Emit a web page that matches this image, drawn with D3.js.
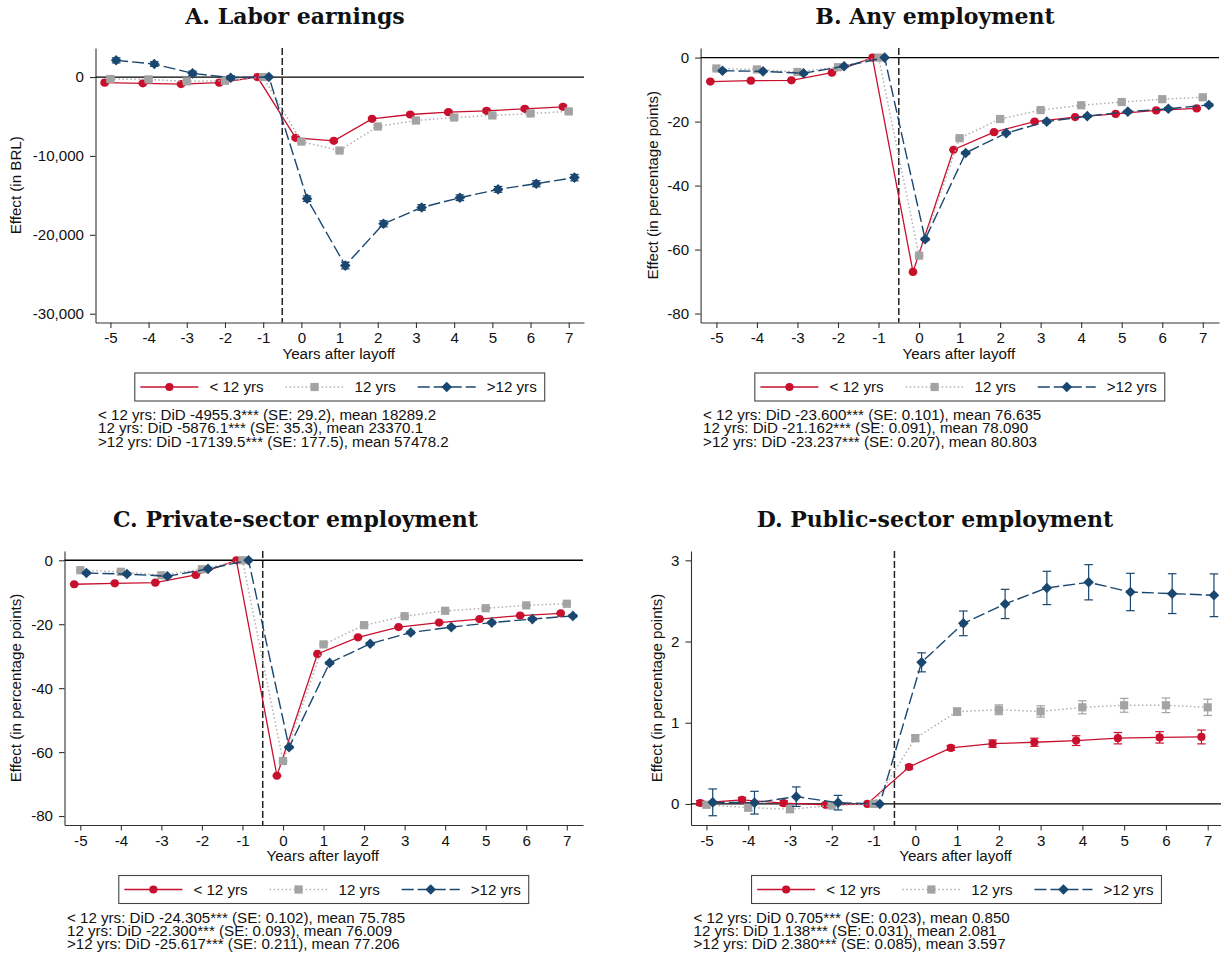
<!DOCTYPE html>
<html>
<head>
<meta charset="utf-8">
<script src="https://cdn.jsdelivr.net/npm/d3@7"></script>
<style>
  body { margin: 0; background: #fff; }
  svg { display: block; }
</style>
</head>
<body>
<svg id="chart" width="1221" height="962"></svg>
<script>
// ---- Data -----------------------------------------------------------
const years = [-5, -4, -3, -2, -1, 0, 1, 2, 3, 4, 5, 6, 7];
const groupLabels = ["< 12 yrs", "12 yrs", ">12 yrs"];

// A. Labor earnings (BRL)
const earnLow  = [-720, -800, -890, -720, 0, -7710, -8090, -5300, -4750, -4450, -4280, -4030, -3770];
const earnMid  = [-250, -300, -550, -470, 0, -8180, -9320, -6270, -5510, -5130, -4870, -4620, -4360];
const earnHigh = [2120, 1650, 470, -80, 0, -15420, -23900, -18600, -16530, -15300, -14240, -13520, -12750];
const earnLowCi  = [130, 120, 120, 110, 0, 140, 150, 150, 160, 170, 180, 190, 200];
const earnMidCi  = [140, 130, 130, 120, 0, 150, 160, 160, 170, 180, 190, 200, 210];
const earnHighCi = [330, 300, 280, 250, 0, 350, 420, 380, 360, 360, 370, 380, 400];
const earnTicks = [0, -10000, -20000, -30000];
const earnNotes = [
  "< 12 yrs: DiD -4955.3*** (SE: 29.2), mean 18289.2",
  "12 yrs: DiD -5876.1*** (SE: 35.3), mean 23370.1",
  ">12 yrs: DiD -17139.5*** (SE: 177.5), mean 57478.2"
];

// B. Any employment (pp)
const empLow  = [-7.5, -7.2, -7.1, -4.7, 0, -67.0, -28.8, -23.3, -20.0, -18.6, -17.6, -16.5, -15.9];
const empMid  = [-3.4, -3.7, -4.5, -3.0, 0, -61.9, -25.2, -19.2, -16.4, -14.9, -13.9, -13.0, -12.4];
const empHigh = [-4.1, -4.3, -4.9, -2.7, 0, -56.8, -29.8, -23.6, -20.0, -18.3, -16.9, -16.0, -14.8];
const empLowCi  = [0.15, 0.15, 0.15, 0.15, 0, 0.2, 0.2, 0.2, 0.2, 0.2, 0.2, 0.2, 0.2];
const empMidCi  = [0.15, 0.15, 0.15, 0.15, 0, 0.2, 0.2, 0.2, 0.2, 0.2, 0.2, 0.2, 0.2];
const empHighCi = [0.3, 0.3, 0.3, 0.3, 0, 0.4, 0.4, 0.4, 0.4, 0.4, 0.4, 0.4, 0.4];
const empTicks = [0, -20, -40, -60, -80];
const empNotes = [
  "< 12 yrs: DiD -23.600*** (SE: 0.101), mean 76.635",
  "12 yrs: DiD -21.162*** (SE: 0.091), mean 78.090",
  ">12 yrs: DiD -23.237*** (SE: 0.207), mean 80.803"
];

// C. Private-sector employment (pp)
const privLow  = [-7.5, -7.2, -7.0, -4.6, 0, -67.4, -29.3, -24.1, -20.9, -19.5, -18.4, -17.3, -16.6];
const privMid  = [-3.1, -3.6, -4.7, -2.8, 0, -62.8, -26.3, -20.3, -17.5, -15.8, -15.0, -14.1, -13.6];
const privHigh = [-4.0, -4.3, -5.0, -2.7, 0, -58.5, -32.1, -26.1, -22.6, -20.9, -19.5, -18.4, -17.4];
const privLowCi  = [0.15, 0.15, 0.15, 0.15, 0, 0.2, 0.2, 0.2, 0.2, 0.2, 0.2, 0.2, 0.2];
const privMidCi  = [0.15, 0.15, 0.15, 0.15, 0, 0.2, 0.2, 0.2, 0.2, 0.2, 0.2, 0.2, 0.2];
const privHighCi = [0.3, 0.3, 0.3, 0.3, 0, 0.4, 0.4, 0.4, 0.4, 0.4, 0.4, 0.4, 0.4];
const privTicks = [0, -20, -40, -60, -80];
const privNotes = [
  "< 12 yrs: DiD -24.305*** (SE: 0.102), mean 75.785",
  "12 yrs: DiD -22.300*** (SE: 0.093), mean 76.009",
  ">12 yrs: DiD -25.617*** (SE: 0.211), mean 77.206"
];

// D. Public-sector employment (pp)
const pubLow  = [0.012, 0.05, 0.01, -0.01, 0, 0.455, 0.69, 0.743, 0.76, 0.78, 0.81, 0.82, 0.825];
const pubMid  = [-0.01, -0.045, -0.065, -0.02, 0, 0.81, 1.137, 1.16, 1.14, 1.19, 1.215, 1.215, 1.19];
const pubHigh = [0.02, 0.016, 0.09, 0.016, 0, 1.744, 2.224, 2.463, 2.66, 2.73, 2.61, 2.59, 2.57];
const pubLowCi  = [0.03, 0.03, 0.03, 0.02, 0, 0.025, 0.03, 0.045, 0.05, 0.06, 0.07, 0.07, 0.085];
const pubMidCi  = [0.035, 0.04, 0.04, 0.03, 0, 0.04, 0.045, 0.06, 0.07, 0.08, 0.085, 0.09, 0.1];
const pubHighCi = [0.165, 0.14, 0.12, 0.09, 0, 0.117, 0.152, 0.18, 0.205, 0.217, 0.23, 0.245, 0.263];
const pubTicks = [0, 1, 2, 3];
const pubNotes = [
  "< 12 yrs: DiD 0.705*** (SE: 0.023), mean 0.850",
  "12 yrs: DiD 1.138*** (SE: 0.031), mean 2.081",
  ">12 yrs: DiD 2.380*** (SE: 0.085), mean 3.597"
];

// ---- Styling --------------------------------------------------------
const SANS = "'Liberation Sans', Arial, Helvetica, sans-serif";
const SERIF = "'DejaVu Serif', 'Liberation Serif', serif";
const FS = 14;        // base sans font size
const SX = 1.08;      // horizontal widening of sans text
const eventLine = -0.5;
const dodge = [-0.15, 0, 0.15];
const styles = [
  { color: "#c8102e", dash: null,      width: 1.3, marker: "circle"  },
  { color: "#a3a3a3", dash: "1.5,2.5", width: 1.5, marker: "square", lineColor: "#b0b0b0" },
  { color: "#1a476f", dash: "12,4",    width: 1.4, marker: "diamond" }
];

const panels = [
  { title: "A. Labor earnings", yTitle: "Effect (in BRL)",
    series: [earnLow, earnMid, earnHigh], ci: [earnLowCi, earnMidCi, earnHighCi],
    ticks: earnTicks, notes: earnNotes, yDomain: [-31116, 3682], xDomain: [-5.39, 7.4],
    box: { left: 95.5, right: 584, top: 48, bottom: 322.5 }, titleX: 295, yTitleX: 20.5 },
  { title: "B. Any employment", yTitle: "Effect (in percentage points)",
    series: [empLow, empMid, empHigh], ci: [empLowCi, empMidCi, empHighCi],
    ticks: empTicks, notes: empNotes, yDomain: [-82.8, 3.0], xDomain: [-5.39, 7.4],
    box: { left: 700.6, right: 1219, top: 48, bottom: 322.5 }, titleX: 935, yTitleX: 658 },
  { title: "C. Private-sector employment", yTitle: "Effect (in percentage points)",
    series: [privLow, privMid, privHigh], ci: [privLowCi, privMidCi, privHighCi],
    ticks: privTicks, notes: privNotes, yDomain: [-82.8, 2.9], xDomain: [-5.39, 7.4],
    box: { left: 64.5, right: 583, top: 551, bottom: 825 }, titleX: 295.5, yTitleX: 20.5 },
  { title: "D. Public-sector employment", yTitle: "Effect (in percentage points)",
    series: [pubLow, pubMid, pubHigh], ci: [pubLowCi, pubMidCi, pubHighCi],
    ticks: pubTicks, notes: pubNotes, yDomain: [-0.259, 3.115], xDomain: [-5.37, 7.4],
    box: { left: 691, right: 1224.4, top: 551, bottom: 825 }, titleX: 935, yTitleX: 661.5,
    frameRight: 1222 }
];

const svg = d3.select("#chart");
const fmt = v => d3.format(",")(v).replace("\u2212", "-");

function sansText(g, x, y, s, anchor = "start", rotate = 0) {
  return g.append("text")
    .attr("transform", `translate(${x},${y})` + (rotate ? ` rotate(${rotate})` : "") + ` scale(${SX},1)`)
    .attr("text-anchor", anchor)
    .attr("font-family", SANS)
    .attr("font-size", FS)
    .attr("fill", "#111")
    .text(s);
}

function drawMarker(g, type, cx, cy, color) {
  if (type === "circle") {
    g.append("circle").attr("cx", cx).attr("cy", cy).attr("r", 4.1).attr("fill", color);
  } else if (type === "square") {
    g.append("rect").attr("x", cx - 4.1).attr("y", cy - 4.1).attr("width", 8.2).attr("height", 8.2).attr("fill", color);
  } else {
    const h = 5.3;
    g.append("path").attr("d", `M${cx},${cy - h}L${cx + h},${cy}L${cx},${cy + h}L${cx - h},${cy}Z`).attr("fill", color);
  }
}

panels.forEach(p => {
  const b = p.box;
  const frameRight = p.frameRight || b.right;
  const g = svg.append("g");
  const x = d3.scaleLinear().domain(p.xDomain).range([b.left, b.right]);
  const y = d3.scaleLinear().domain(p.yDomain).range([b.bottom, b.top]);

  // Title
  g.append("text")
    .attr("x", p.titleX).attr("y", b.top - 24)
    .attr("text-anchor", "middle")
    .attr("font-family", SERIF).attr("font-weight", "bold").attr("font-size", 22)
    .attr("fill", "#111")
    .text(p.title);

  // Axes
  const yAxis = d3.axisLeft(y).tickValues(p.ticks).tickFormat(fmt).tickSize(5.5).tickSizeOuter(0);
  const xAxis = d3.axisBottom(x).tickValues(years).tickFormat(fmt).tickSize(5.5).tickSizeOuter(0);
  const ya = g.append("g").attr("transform", `translate(${b.left},0)`).call(yAxis);
  const xa = g.append("g").attr("transform", `translate(0,${b.bottom})`).call(xAxis);
  [ya, xa].forEach(a => {
    a.select(".domain").attr("stroke", "#333").attr("stroke-width", 1.1);
    a.selectAll(".tick line").attr("stroke", "#333").attr("stroke-width", 1.1);
    a.selectAll(".tick text").attr("font-family", SANS).attr("font-size", FS).attr("fill", "#111");
  });
  ya.selectAll(".tick text").attr("x", 0).attr("dy", "0.35em")
    .attr("transform", `translate(-11.5,0) scale(${SX},1)`);
  xa.selectAll(".tick text").attr("y", 0).attr("dy", 0)
    .attr("transform", `translate(0,20.6) scale(${SX},1)`);

  // Axis titles
  sansText(g, p.yTitleX, (b.top + b.bottom) / 2, p.yTitle, "middle", -90);
  sansText(g, (b.left + frameRight) / 2 - 1, b.bottom + 36, "Years after layoff", "middle");

  // Reference lines
  g.append("line")
    .attr("x1", b.left).attr("x2", b.right).attr("y1", y(0)).attr("y2", y(0))
    .attr("stroke", "#000").attr("stroke-width", 1.3);
  g.append("line")
    .attr("x1", x(eventLine)).attr("x2", x(eventLine)).attr("y1", b.top).attr("y2", b.bottom)
    .attr("stroke", "#222").attr("stroke-width", 1.5).attr("stroke-dasharray", "7,3");

  // Series
  p.series.forEach((vals, i) => {
    const st = styles[i];
    const pts = years.map((yr, j) => ({ x: yr + dodge[i], v: vals[j], ci: p.ci[i][j] }));
    const sg = g.append("g");
    pts.filter(d => d.ci > 0).forEach(d => {
      const cx = x(d.x), y1 = y(d.v - d.ci), y2 = y(d.v + d.ci);
      sg.append("line").attr("x1", cx).attr("x2", cx).attr("y1", y1).attr("y2", y2)
        .attr("stroke", st.color).attr("stroke-width", 1.2);
      [y1, y2].forEach(yy => sg.append("line")
        .attr("x1", cx - 4.3).attr("x2", cx + 4.3).attr("y1", yy).attr("y2", yy)
        .attr("stroke", st.color).attr("stroke-width", 1.2));
    });
    sg.append("path")
      .attr("d", d3.line().x(d => x(d.x)).y(d => y(d.v))(pts))
      .attr("fill", "none")
      .attr("stroke", st.lineColor || st.color)
      .attr("stroke-width", st.width)
      .attr("stroke-dasharray", st.dash);
    pts.forEach(d => drawMarker(sg, st.marker, x(d.x), y(d.v), st.color));
  });

  // Legend
  const lg = g.append("g");
  const lineLen = 58, textGap = 11, itemGap = 22, padL = 5.6, padR = 8;
  const itemsG = lg.append("g");
  let cursor = padL;
  const legendTop = b.bottom + 50.5, legendH = 28;
  const cy = legendH / 2;
  groupLabels.forEach((lab, i) => {
    const st = styles[i];
    itemsG.append("line")
      .attr("x1", cursor).attr("x2", cursor + lineLen).attr("y1", cy).attr("y2", cy)
      .attr("stroke", st.lineColor || st.color).attr("stroke-width", st.width)
      .attr("stroke-dasharray", st.dash);
    drawMarker(itemsG, st.marker, cursor + lineLen / 2, cy, st.color);
    const t = sansText(itemsG, cursor + lineLen + textGap, cy + 5, lab, "start");
    const w = t.node().getComputedTextLength() * SX;
    cursor += lineLen + textGap + w + (i < groupLabels.length - 1 ? itemGap : padR);
  });
  const legendW = cursor;
  const legendLeft = (b.left + frameRight) / 2 - legendW / 2;
  lg.attr("transform", `translate(${legendLeft},${legendTop})`);
  lg.insert("rect", ":first-child")
    .attr("x", 0).attr("y", 0).attr("width", legendW).attr("height", legendH)
    .attr("fill", "#fff").attr("stroke", "#444").attr("stroke-width", 1.1);

  // Notes with DiD estimates
  p.notes.forEach((s, k) => sansText(g, b.left + 2.5, b.bottom + 97.5 + k * 13.3, s, "start"));
});
</script>
</body>
</html>
